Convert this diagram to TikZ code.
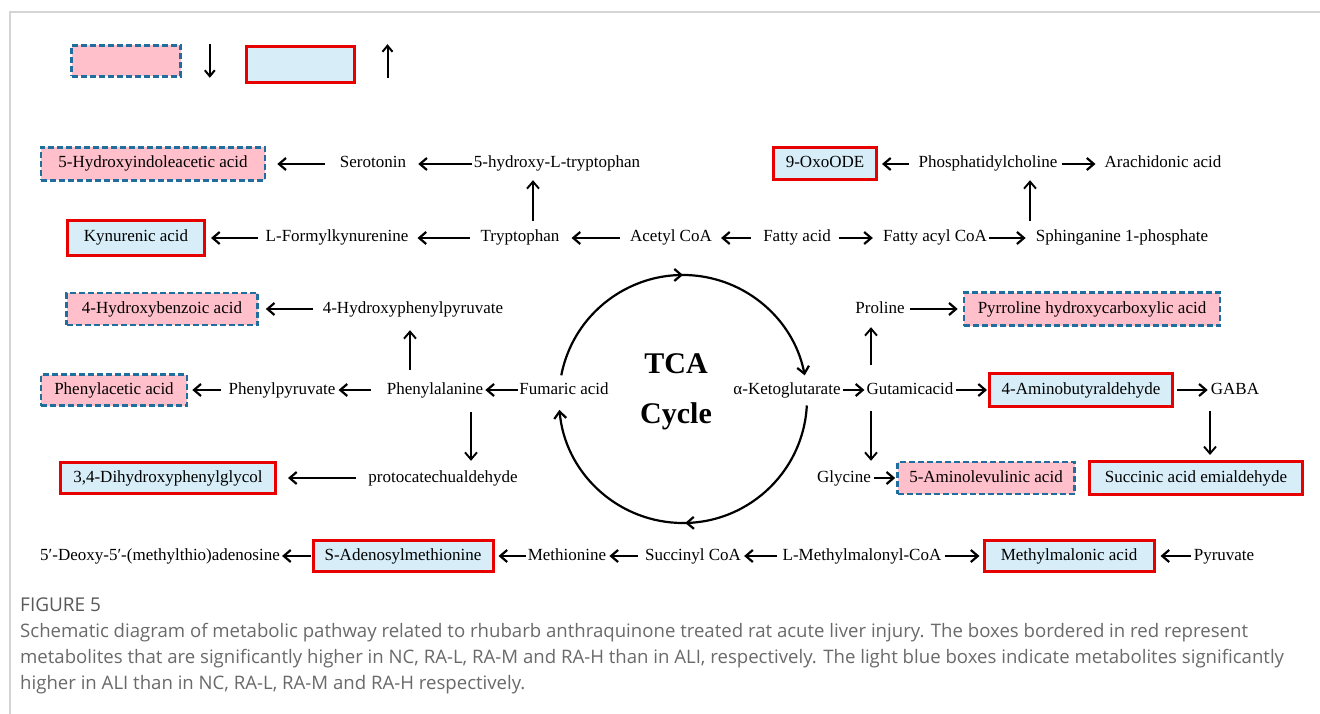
\documentclass[tikz,border=0pt]{standalone}
\usepackage{fontspec}
\setmainfont{Liberation Serif}
\newfontfamily\capfont{Open Sans}
\usetikzlibrary{arrows.meta,calc,decorations.markings}

\definecolor{lowpink}{HTML}{FFC0CB}
\definecolor{lowblue}{HTML}{1F6E9E}
\definecolor{highblue}{HTML}{D7EEF9}
\definecolor{highred}{HTML}{E60000}
\definecolor{capgray}{HTML}{6A6A6A}
\definecolor{rulegray}{HTML}{D5D5D5}

\tikzset{
  met/.style={font=\fontsize{17}{20}\selectfont, inner xsep=1pt, inner ysep=1pt, text height=12pt, text depth=4pt},
  lowbox/.style={met, draw=lowblue, fill=lowpink, line width=2.6pt, dash pattern=on 6pt off 3pt},
  highbox/.style={met, draw=highred, fill=highblue, line width=3pt},
  arr/.style 2 args={-{Straight Barb[length=7pt,width=12pt]}, line width=2.2pt, shorten <=#1, shorten >=#2},
  varr/.style 2 args={-{Straight Barb[length=7pt,width=12pt]}, line width=1.9pt, shorten <=#1, shorten >=#2},
  larr/.style={-{Straight Barb[length=6pt,width=10pt]}, line width=2pt},
  cyc/.style={line width=2.2pt},
  midarr/.style={postaction=decorate, decoration={markings, mark=at position 0.5 with {\arrow{Straight Barb[length=7pt,width=12pt]}}}},
  captext/.style={font=\capfont\fontsize{18.6}{22}\selectfont, text=capgray, anchor=base west, inner sep=0pt},
}

\begin{document}
\begin{tikzpicture}[x=1pt,y=-1pt]

\fill[white] (0,0) rectangle (1320,714);
\useasboundingbox (0,0) rectangle (1320,714);
\draw[rulegray, line width=1.5pt] (10,714) -- (10,12) -- (1320,12);

% legend
\node[lowbox, minimum width=109pt, minimum height=31pt] (lowkey) at (126,61) {};
\node[highbox, minimum width=108pt, minimum height=36pt] (highkey) at (300,65) {};
\draw[larr] ([xshift=28pt]lowkey.north east) -- ([xshift=28pt]lowkey.south east);
\draw[larr] ([xshift=32pt]highkey.east |- lowkey.south) -- ([xshift=32pt]highkey.east |- lowkey.north);

% row 1
\node[lowbox, minimum width=224pt, minimum height=33pt] (hiaa) at (153,164) {5-Hydroxyindoleacetic acid};
\node[met] (sero) at (373,164) {Serotonin};
\node[met] (htp) at (557,164) {5-hydroxy-L-tryptophan};
\node[highbox, minimum width=103pt, minimum height=32pt] (oxo) at (825,164) {9-OxoODE};
\node[met] (phos) at (988,164) {Phosphatidylcholine};
\node[met] (arach) at (1163,164) {Arachidonic acid};

% row 2
\node[highbox, minimum width=137pt, minimum height=35pt] (kyn) at (136,238) {Kynurenic acid};
\node[met] (lfk) at (337,238) {L-Formylkynurenine};
\node[met] (tryp) at (520,238) {Tryptophan};
\node[met] (acoa) at (671,238) {Acetyl CoA};
\node[met] (fa) at (797,238) {Fatty acid};
\node[met] (facoa) at (935,238) {Fatty acyl CoA};
\node[met] (sph) at (1122,238) {Sphinganine 1-phosphate};

% row 3
\node[lowbox, minimum width=191pt, minimum height=32pt] (hba) at (162,309) {4-Hydroxybenzoic acid};
\node[met] (hpp) at (413,309) {4-Hydroxyphenylpyruvate};
\node[met] (pro) at (880,309) {Proline};
\node[lowbox, minimum width=256pt, minimum height=33pt] (phc) at (1092,309) {Pyrroline hydroxycarboxylic acid};

% row 4
\node[lowbox, minimum width=146pt, minimum height=31pt] (pha) at (114,390) {Phenylacetic acid};
\node[met] (ppy) at (282,390) {Phenylpyruvate};
\node[met] (phe) at (435,390) {Phenylalanine};
\node[met] (fum) at (564,390) {Fumaric acid};
\node[met] (akg) at (787,390) {α-Ketoglutarate};
\node[met] (glu) at (910,390) {Gutamicacid};
\node[highbox, minimum width=183pt, minimum height=33pt] (amb) at (1081,390) {4-Aminobutyraldehyde};
\node[met] (gaba) at (1235,390) {GABA};

% row 5
\node[highbox, minimum width=215pt, minimum height=31pt] (dhpg) at (168,478) {3,4-Dihydroxyphenylglycol};
\node[met] (proto) at (443,478) {protocatechualdehyde};
\node[met] (gly) at (844,478) {Glycine};
\node[lowbox, minimum width=177pt, minimum height=32pt] (ala) at (986,478) {5-Aminolevulinic acid};
\node[highbox, minimum width=213pt, minimum height=33pt] (sae) at (1196,478) {Succinic acid emialdehyde};

% row 6
\node[met] (mta) at (160,556) {5′-Deoxy-5′-(methylthio)adenosine};
\node[highbox, minimum width=180pt, minimum height=31pt] (sam) at (403,556) {S-Adenosylmethionine};
\node[met] (meth) at (567,556) {Methionine};
\node[met] (sca) at (693,556) {Succinyl CoA};
\node[met] (lmm) at (862,556) {L-Methylmalonyl-CoA};
\node[highbox, minimum width=170pt, minimum height=31pt] (mma) at (1069,556) {Methylmalonic acid};
\node[met] (pyv) at (1224,556) {Pyruvate};

% TCA cycle
\coordinate (tca) at (683,399);
\node[font=\bfseries\fontsize{30}{34}\selectfont, anchor=base] (tcat) at (676,373) {TCA};
\node[font=\bfseries\fontsize{30}{34}\selectfont, anchor=base] (cyct) at (676,423) {Cycle};
\draw[cyc, midarr, -{Straight Barb[length=7pt,width=12pt]}] ($(tca)+(191:124)$) arc[start angle=191, end angle=349, radius=124];
\draw[cyc, midarr, -{Straight Barb[length=7pt,width=12pt]}] ($(tca)+(3:124)$) arc[start angle=3, end angle=175, radius=124];

% horizontal arrows
\draw[arr={14pt}{11pt}] (sero) -- (hiaa);
\draw[arr={1pt}{11pt}] (htp) -- (sero);
\draw[arr={8pt}{4pt}] (phos) -- (oxo);
\draw[arr={3pt}{8pt}] (phos) -- (arach);
\draw[arr={7pt}{5pt}] (lfk) -- (kyn);
\draw[arr={9pt}{8pt}] (tryp) -- (lfk);
\draw[arr={9pt}{11pt}] (acoa) -- (tryp);
\draw[arr={11pt}{8pt}] (fa) -- (acoa);
\draw[arr={7pt}{9pt}] (fa) -- (facoa);
\draw[arr={1pt}{9pt}] (facoa) -- (sph);
\draw[arr={9pt}{7pt}] (hpp) -- (hba);
\draw[arr={4pt}{5pt}] (pro) -- (phc);
\draw[arr={6pt}{4pt}] (ppy) -- (pha);
\draw[arr={15pt}{2pt}] (phe) -- (ppy);
\draw[arr={0pt}{1pt}] (fum) -- (phe);
\draw[arr={1pt}{1pt}] (akg) -- (glu);
\draw[arr={1pt}{1pt}] (glu) -- (amb);
\draw[arr={3pt}{2pt}] (amb) -- (gaba);
\draw[arr={11pt}{11pt}] (proto) -- (dhpg);
\draw[arr={2pt}{1pt}] (gly) -- (ala);
\draw[arr={1pt}{1pt}] (sam) -- (mta);
\draw[arr={1pt}{4pt}] (meth) -- (sam);
\draw[arr={6pt}{2pt}] (sca) -- (meth);
\draw[arr={4pt}{2pt}] (lmm) -- (sca);
\draw[arr={2pt}{3pt}] (lmm) -- (mma);
\draw[arr={2pt}{5pt}] (pyv) -- (mma);

% vertical arrows
\draw[varr={8pt}{7pt}] ([xshift=13pt]tryp.north) -- ([xshift=13pt]tryp.north |- htp.south);
\draw[varr={8pt}{7pt}] ([xshift=42pt]phos.south |- sph.north) -- ([xshift=42pt]phos.south);
\draw[varr={11pt}{12pt}] ([xshift=-3pt]hpp.south |- phe.north) -- ([xshift=-3pt]hpp.south);
\draw[varr={13pt}{8pt}] ([xshift=36pt]phe.south) -- ([xshift=36pt]phe.south |- proto.north);
\draw[varr={16pt}{9pt}] ([xshift=-9pt]pro.south |- glu.north) -- ([xshift=-9pt]pro.south);
\draw[varr={12pt}{8pt}] ([xshift=27pt]gly.north |- glu.south) -- ([xshift=27pt]gly.north);
\draw[varr={12pt}{5pt}] ([xshift=-25pt]gaba.south) -- ([xshift=-25pt]gaba.south |- sae.north);

% caption
\node[captext, font=\capfont\fontsize{19}{22}\selectfont, text=capgray!85!black] (fig) at (20,611) {FIGURE 5};
\node[captext] (cap1) at (20,637) {Schematic diagram of metabolic pathway related to rhubarb anthraquinone treated rat acute liver injury. The boxes bordered in red represent};
\node[captext] (cap2) at (20,663) {metabolites that are significantly higher in NC, RA-L, RA-M and RA-H than in ALI, respectively. The light blue boxes indicate metabolites significantly};
\node[captext] (cap3) at (20,689) {higher in ALI than in NC, RA-L, RA-M and RA-H respectively.};

\end{tikzpicture}
\end{document}
